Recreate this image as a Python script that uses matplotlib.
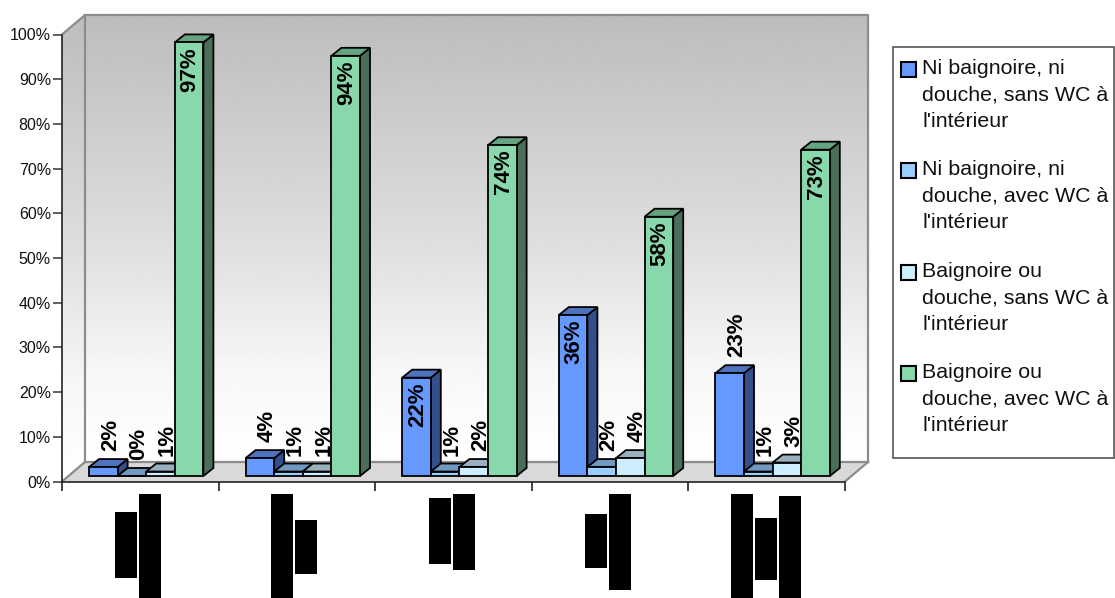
# Libraries
import matplotlib
matplotlib.use("Agg")
import matplotlib.pyplot as plt
import numpy as np
from matplotlib.patches import Polygon, Rectangle

plt.rcParams["font.family"] = ["Liberation Sans", "DejaVu Sans"]

# Data
legend_labels = [
    "Ni baignoire, ni\ndouche, sans WC à\nl'intérieur",
    "Ni baignoire, ni\ndouche, avec WC à\nl'intérieur",
    "Baignoire ou\ndouche, sans WC à\nl'intérieur",
    "Baignoire ou\ndouche, avec WC à\nl'intérieur",
]
no_bath_no_wc = [2, 4, 22, 36, 23]
no_bath_wc = [0, 1, 1, 2, 1]
bath_no_wc = [1, 1, 2, 4, 3]
bath_wc = [97, 94, 74, 58, 73]
series = [no_bath_no_wc, no_bath_wc, bath_no_wc, bath_wc]
y_ticks = list(range(0, 101, 10))

# Colours: front, side, top
colors = [
    ("#6699ff", "#34508c", "#4d73bf"),
    ("#99ccff", "#6f94ba", "#7099c2"),
    ("#cceeff", "#90aabb", "#99b1bf"),
    ("#88d8ac", "#4a6e5a", "#66a381"),
]
# Black blocks under the category ticks (left, top, right, bottom in pixels)
blocks = [
    (115, 512, 137, 578), (139, 494, 161, 598),
    (271, 494, 293, 598), (295, 520, 317, 574),
    (429, 498, 451, 564), (453, 494, 475, 570),
    (585, 514, 607, 568), (609, 494, 631, 590),
    (731, 494, 753, 598), (755, 518, 777, 580), (779, 496, 801, 598),
]

W, H = 1115, 598
fig = plt.figure(figsize=(W / 100, H / 100), dpi=100)
x0, x1, y0, y1 = 62, 845, 481.5, 34.5
ax = fig.add_axes([x0 / W, 1 - y0 / H, (x1 - x0) / W, (y0 - y1) / H])
ax.patch.set_visible(False)

# Pixel sizes expressed in axis units
ux = 5 / (x1 - x0)
uy = 100 / (y0 - y1)
wall_dx, wall_dy = 23 * ux, 19.5 * uy
bar_dx, bar_dy = 10 * ux, 8 * uy
base = 5.5 * uy
bar_w = 28.6 * ux
first = 27 * ux

# Walls with a grey to white gradient
grad = np.interp(np.linspace(0, 1, 256), [0, 0.5, 0.8, 1], [0.74, 0.87, 0.97, 1.0]).reshape(-1, 1)
top_y = 100 + wall_dy
back = ax.imshow(grad, cmap="gray", vmin=0, vmax=1, aspect="auto", zorder=1,
                 extent=(wall_dx, 5 + wall_dx, wall_dy, top_y), clip_on=False)
side = ax.imshow(grad, cmap="gray", vmin=0, vmax=1, aspect="auto", zorder=1,
                 extent=(0, wall_dx, 0, top_y))
side_shape = Polygon([(0, 0), (wall_dx, wall_dy), (wall_dx, top_y), (0, 100)],
                     transform=ax.transData, fc="none", ec="none", clip_on=False)
ax.add_patch(side_shape)
side.set_clip_path(side_shape)
side.set_clip_box(fig.bbox)

# Floor and wall outlines
ax.add_patch(Polygon([(0, 0), (wall_dx, wall_dy), (5 + wall_dx, wall_dy), (5, 0)],
                     fc="#d9d9d9", ec="none", zorder=2, clip_on=False))
wall_line = dict(color="#8c8c8c", lw=1.6, zorder=3, clip_on=False)
ax.plot([0, wall_dx, wall_dx], [100, top_y, wall_dy], **wall_line)
ax.plot([wall_dx, 5 + wall_dx, 5 + wall_dx], [top_y, top_y, wall_dy], **wall_line)
ax.plot([wall_dx, 5 + wall_dx], [wall_dy, wall_dy], **wall_line)
ax.plot([0, wall_dx], [0, wall_dy], **wall_line)
ax.plot([5, 5 + wall_dx], [0, wall_dy], **wall_line)

# Bars, left to right so the tall ones sit over their neighbours
edge = dict(ec="black", lw=1.3, joinstyle="miter", zorder=4, clip_on=False)
for c in range(5):
    for s, values in enumerate(series):
        v = values[c]
        left = c + first + s * bar_w
        right = left + bar_w
        top = base + v
        front, shade, lid = colors[s]
        ax.add_patch(Polygon([(right, base), (right + bar_dx, base + bar_dy),
                              (right + bar_dx, top + bar_dy), (right, top)],
                             fc=shade, **edge))
        ax.add_patch(Polygon([(left, top), (left + bar_dx, top + bar_dy),
                              (right + bar_dx, top + bar_dy), (right, top)],
                             fc=lid, **edge))
        ax.bar(left, v, bar_w, bottom=base, align="edge", color=front,
               edgecolor="black", linewidth=1.3, zorder=4, clip_on=False)

        # Value labels: inside the tall bars, above the short ones
        text = dict(rotation=90, ha="center", fontsize=16, fontweight="bold",
                    color="black", zorder=5)
        if v >= 36 or (v == 22):
            ax.text((left + right) / 2 + 1 * ux, top - 4.5 * uy, f"{v}%", va="top", **text)
        else:
            ax.text((left + right) / 2 + 7 * ux, top + bar_dy + 8 * uy, f"{v}%",
                    va="bottom", **text)

# Axes
ax.set_xlim(0, 5)
ax.set_ylim(0, 100)
ax.set_yticks(y_ticks)
ax.set_yticklabels([f"{t}%" for t in y_ticks], fontsize=11.5, color="#111111")
ax.set_xticks(range(6))
ax.set_xticklabels([])
ax.tick_params(axis="y", length=6.5, width=1.2, color="#444444", pad=1.5)
ax.tick_params(axis="x", length=6.5, width=1.2, color="#222222")
for name in ["top", "right"]:
    ax.spines[name].set_visible(False)
for name in ["left", "bottom"]:
    ax.spines[name].set_color("#222222")
    ax.spines[name].set_linewidth(1.2)
    ax.spines[name].set_zorder(3)

# Overlay in pixel coordinates for the legend and the black blocks
over = fig.add_axes([0, 0, 1, 1])
over.set_xlim(0, W)
over.set_ylim(H, 0)
over.axis("off")
for l, t, r, b in blocks:
    over.add_patch(Rectangle((l, t), r - l, b - t, fc="black", ec="none"))

over.add_patch(Rectangle((893, 47), 221, 411, fc="white", ec="#555555", lw=1.2))
for i, label in enumerate(legend_labels):
    y = 62 + i * 101.3
    over.add_patch(Rectangle((901, y), 15, 15, fc=colors[i][0], ec="black", lw=1.5))
    over.text(922, y - 3, label, fontsize=15.4, va="top", ha="left",
              linespacing=1.5, color="#111111")

fig.savefig("out.png", dpi=100)
